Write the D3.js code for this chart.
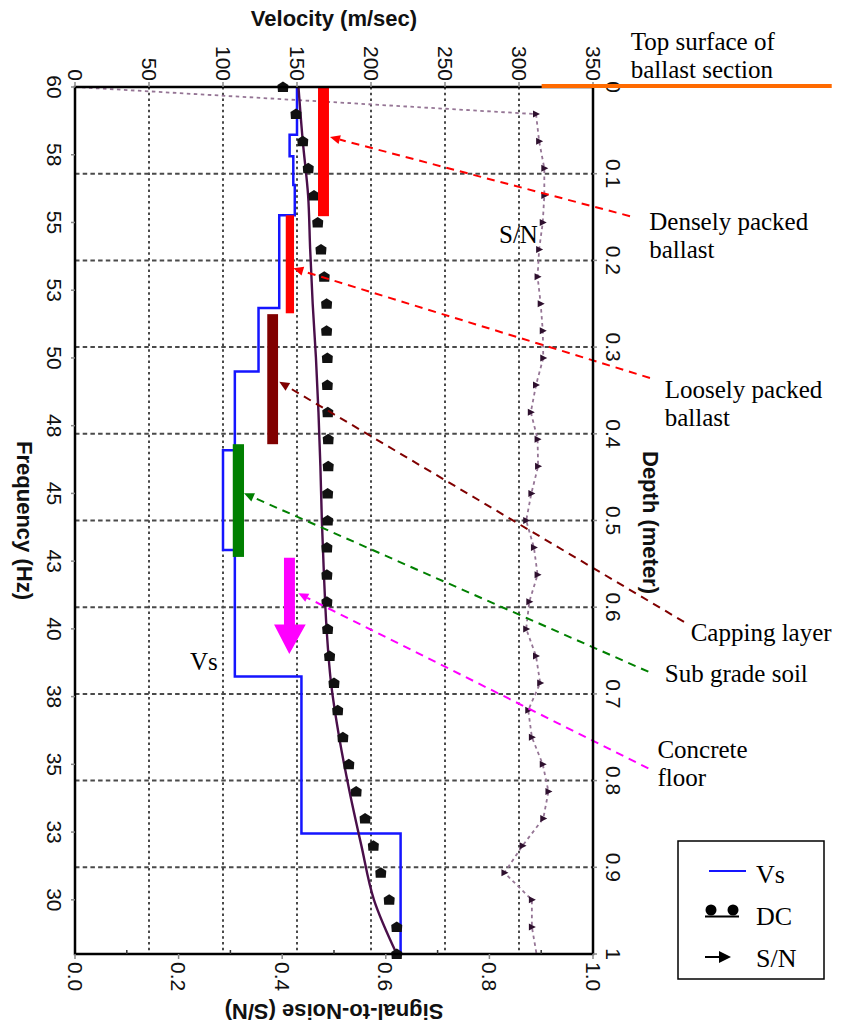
<!DOCTYPE html>
<html><head><meta charset="utf-8">
<script src="https://cdn.jsdelivr.net/npm/d3@7"></script>
<style>body{margin:0;background:#fff}</style>
</head><body><svg id="c" width="845" height="1030"></svg>
<script>
// ---------------- data ----------------
const dcFreq = [60,59,58,57,56,55,54,53,52,51,50,49,48,47,46,45,44,43,42,41,40,39,38,37,36,35,34,33,32,31,30,29,28];
const dcVel  = [140.5,149.3,153.9,157.6,161.5,164,166.2,168.4,170,170,170.5,170.5,170.8,171.1,171.1,170.7,170.7,170.2,170.2,170.2,170.7,172,175,177.5,181,185,190,196,201.6,206.6,212.3,217.4,217.4];

const theoFreq = [60,58,56,54,52,50,48,46,44,42,40,38,36,34,32,30,28];
const theoVel  = [151,153.9,157.5,158.9,160.6,162.8,164.5,165.8,166.8,168.2,170,173,178.5,185.5,193.5,202,217.4];

const snFreq = [60,59,58,57,56,55,54,53,52,51,50,49,48,47,46,45,44,43,42,41,40,39,38,37,36,35,34,33,32,31,30,29,28];
const snVal  = [0.0,0.890,0.896,0.906,0.906,0.903,0.896,0.893,0.899,0.903,0.904,0.890,0.880,0.893,0.894,0.881,0.871,0.886,0.893,0.877,0.871,0.890,0.898,0.875,0.882,0.903,0.914,0.904,0.864,0.829,0.882,0.882,0.891];
const snMarkerFreq = [59,58,57,56,55,54,53,52,51,50,49,48,47,46,45,44,43,42,41,40,39,38,37,36,35,34,33,32,31,30,29];

const vsDepthTop    = [0,0.055,0.080,0.113,0.148,0.255,0.328,0.419,0.534,0.680,0.861];
const vsDepthBottom = [0.055,0.080,0.113,0.148,0.255,0.328,0.419,0.534,0.680,0.861,1.0];
const vsVel         = [150,145,147.5,148.5,138,124,108,100,108,153,220];

const velTicks = [0,50,100,150,200,250,300,350];
const velGrid  = [50,100,150,200,250,300];
const freqTicks = [60,57.5,55,52.5,50,47.5,45,42.5,40,37.5,35,32.5,30];
const freqTickLabels = ["60","58","55","53","50","48","45","43","40","38","35","33","30"];
const depthTicks = [0,0.1,0.2,0.3,0.4,0.5,0.6,0.7,0.8,0.9,1];
const depthTickLabels = ["0","0.1","0.2","0.3","0.4","0.5","0.6","0.7","0.8","0.9","1"];
const depthGrid = [0.1,0.2,0.3,0.4,0.5,0.6,0.7,0.8,0.9];
const snTicks = [0,0.2,0.4,0.6,0.8,1.0];
const snTickLabels = ["0.0","0.2","0.4","0.6","0.8","1.0"];
const snMinor = [0.1,0.3,0.5,0.7,0.9];

// layer annotation bars (velocity range, depth range)
const layerNames  = ["Densely packed ballast","Loosely packed ballast","Capping layer","Sub grade soil"];
const layerColors = ["#ff0000","#ff0000","#800000","#008000"];
const layerV0 = [164.2,142.4,129.9,106.6];
const layerV1 = [171.6,148.0,137.2,114.2];
const layerD0 = [0,0.148,0.262,0.412];
const layerD1 = [0.149,0.261,0.412,0.542];

// leader lines: tip (v,d) -> end (v,d)
const leaderColors = ["#ff0000","#ff0000","#800000","#008000","#ff00ff"];
const leaderTipV = [172.3,147.5,138.0,114.2,150.9];
const leaderTipD = [0.0577,0.209,0.340,0.4686,0.584];
const leaderEndV = [375,388.5,411.5,387.4,387.4];
const leaderEndD = [0.149,0.3356,0.617,0.6744,0.786];

// label texts (velocity-x, depth-y of first baseline)
const noteLines = [["Top surface of","ballast section"],["Densely packed","ballast"],["Loosely packed","ballast"],["Capping layer"],["Sub grade soil"],["Concrete","floor"]];
const noteV = [375.5,388,398.5,416,398.5,393.5];
const noteD = [-0.0427,0.1645,0.3585,0.6395,0.6865,0.7745];

// ---------------- chart ----------------
const svg = d3.select("#c");
const L=75,R=593,T=87,B=954;
const xV  = d3.scaleLinear([0,350],[L,R]);
const xSN = d3.scaleLinear([0,1],[L,R]);
const yD  = d3.scaleLinear([0,1],[T,B]);
const yF  = d3.scaleLinear([60,28],[T,B]);

const sans = "'Liberation Sans', Arial, sans-serif";
const serif = "'Liberation Serif', 'Times New Roman', serif";

// grid
svg.append("g").selectAll("line").data(velGrid).join("line")
  .attr("x1",d=>xV(d)).attr("x2",d=>xV(d)).attr("y1",T).attr("y2",B)
  .attr("stroke","#4a4a4a").attr("stroke-width",2).attr("stroke-dasharray","2.5,3.2");
svg.append("g").selectAll("line").data(depthGrid).join("line")
  .attr("x1",L).attr("x2",R).attr("y1",d=>yD(d)).attr("y2",d=>yD(d))
  .attr("stroke","#4a4a4a").attr("stroke-width",2).attr("stroke-dasharray","4.5,3.2");

// S/N line
const snPts = snFreq.map((f,i)=>[xSN(snVal[i]), yF(f)]);
svg.append("path").attr("d",d3.line()(snPts)).attr("fill","none")
  .attr("stroke","#957595").attr("stroke-width",1.8).attr("stroke-dasharray","3.5,3.5");
svg.append("g").selectAll("path").data(snMarkerFreq).join("path")
  .attr("d","M-3,-3.5L4,0L-3,3.5Z")
  .attr("transform",f=>`translate(${xSN(snVal[snFreq.indexOf(f)])},${yF(f)})`)
  .attr("fill","#2e102e");

// Vs step line
const vsPts = [];
vsVel.forEach((v,i)=>{vsPts.push([xV(v),yD(vsDepthTop[i])]);vsPts.push([xV(v),yD(vsDepthBottom[i])]);});
svg.append("path").attr("d",d3.line()(vsPts)).attr("fill","none")
  .attr("stroke","#1515ff").attr("stroke-width",2.5);

// theoretical dispersion curve
svg.append("path").attr("d",d3.line().curve(d3.curveMonotoneY)(theoFreq.map((f,i)=>[xV(theoVel[i]),yF(f)])))
  .attr("fill","none").attr("stroke","#4a0f4a").attr("stroke-width",2.4);

// DC markers
svg.append("g").selectAll("path").data(dcFreq).join("path")
  .attr("d","M0,-5.5L5.5,-2L5,5L-5,5L-5.5,-2Z")
  .attr("transform",(f,i)=>`translate(${xV(dcVel[i])},${yF(f)})`)
  .attr("fill","#111");

// layer bars
svg.append("g").selectAll("rect").data(layerNames).join("rect")
  .attr("x",(d,i)=>xV(layerV0[i])).attr("width",(d,i)=>xV(layerV1[i])-xV(layerV0[i]))
  .attr("y",(d,i)=>yD(layerD0[i])).attr("height",(d,i)=>yD(layerD1[i])-yD(layerD0[i]))
  .attr("fill",(d,i)=>layerColors[i]);

// concrete floor arrow
{
  const s0=141.2,s1=148.6,h0=134.5,h1=155.9,apx=144.8,d0=0.543,d1=0.620,d2=0.654;
  svg.append("path").attr("fill","#ff00ff").attr("d",
    `M${xV(s0)},${yD(d0)}L${xV(s1)},${yD(d0)}L${xV(s1)},${yD(d1)}L${xV(h1)},${yD(d1)}L${xV(apx)},${yD(d2)}L${xV(h0)},${yD(d1)}L${xV(s0)},${yD(d1)}Z`);
}

// leader lines with arrowheads
leaderColors.forEach((c,i)=>{
  const x1=xV(leaderEndV[i]),y1=yD(leaderEndD[i]),x2=xV(leaderTipV[i]),y2=yD(leaderTipD[i]);
  const ang=Math.atan2(y2-y1,x2-x1);
  const hl=10, hw=4.5;
  const bx=x2-hl*Math.cos(ang), by=y2-hl*Math.sin(ang);
  svg.append("line").attr("x1",x1).attr("y1",y1).attr("x2",bx).attr("y2",by)
    .attr("stroke",c).attr("stroke-width",2).attr("stroke-dasharray","8,6");
  const px=-Math.sin(ang),py=Math.cos(ang);
  svg.append("path").attr("fill",c)
    .attr("d",`M${x2},${y2}L${bx+px*hw},${by+py*hw}L${bx-px*hw},${by-py*hw}Z`);
});

// frame
svg.append("rect").attr("x",L).attr("y",T).attr("width",R-L).attr("height",B-T)
  .attr("fill","none").attr("stroke","#000").attr("stroke-width",2.5);

// ticks
const tick = svg.append("g").attr("stroke","#888").attr("stroke-width",1.5);
velTicks.forEach(v=>tick.append("line").attr("x1",xV(v)).attr("x2",xV(v)).attr("y1",T).attr("y2",T-5));
freqTicks.forEach(f=>tick.append("line").attr("x1",L).attr("x2",L-4).attr("y1",yF(f)).attr("y2",yF(f)));
depthTicks.forEach(d=>tick.append("line").attr("x1",R).attr("x2",R+4).attr("y1",yD(d)).attr("y2",yD(d)));
snTicks.forEach(s=>tick.append("line").attr("x1",xSN(s)).attr("x2",xSN(s)).attr("y1",B).attr("y2",B+5));
snMinor.forEach(s=>tick.append("line").attr("x1",xSN(s)).attr("x2",xSN(s)).attr("y1",B).attr("y2",B-4).attr("stroke","#333"));

// tick labels (rotated 90)
const tl = svg.append("g").attr("font-family",sans).attr("font-size",21).attr("fill","#111");
velTicks.forEach(v=>tl.append("text").attr("transform",`translate(${xV(v)},${T-6}) rotate(90)`)
  .attr("text-anchor","end").attr("dy","0.35em").text(v));
freqTicks.forEach((f,i)=>tl.append("text").attr("transform",`translate(54,${yF(f)}) rotate(90)`)
  .attr("text-anchor","middle").attr("dy","0.35em").text(freqTickLabels[i]));
depthTicks.forEach((d,i)=>tl.append("text").attr("transform",`translate(613,${yD(d)}) rotate(90)`)
  .attr("text-anchor","middle").attr("dy","0.35em").text(depthTickLabels[i]));
snTicks.forEach((s,i)=>tl.append("text").attr("transform",`translate(${xSN(s)},${B+8}) rotate(90)`)
  .attr("text-anchor","start").attr("dy","0.35em").text(snTickLabels[i]));

// axis titles
const tt = svg.append("g").attr("font-family",sans).attr("font-size",22).attr("font-weight","bold").attr("fill","#111");
tt.append("text").attr("x",(L+R)/2).attr("y",26).attr("text-anchor","middle").text("Velocity (m/sec)");
tt.append("text").attr("transform",`translate(17,${(T+B)/2}) rotate(90)`).attr("text-anchor","middle").text("Frequency (Hz)");
tt.append("text").attr("transform",`translate(643,${(T+B)/2+2}) rotate(90)`).attr("text-anchor","middle").text("Depth (meter)");
tt.append("text").attr("transform",`translate(${(L+R)/2},1004) rotate(180)`).attr("text-anchor","middle").text("Signal-to-Noise (S/N)");

// orange top surface line
svg.append("line").attr("x1",xV(315.3)).attr("x2",xV(511.3)).attr("y1",yD(0)-1).attr("y2",yD(0)-1)
  .attr("stroke","#ff6a00").attr("stroke-width",4);

// notes
const nt = svg.append("g").attr("font-family",serif).attr("font-size",25).attr("fill","#000");
noteLines.forEach((lines,i)=>{
  const t = nt.append("text").attr("x",xV(noteV[i])).attr("y",yD(noteD[i]));
  lines.forEach((ln,j)=>t.append("tspan").attr("x",xV(noteV[i])).attr("dy",j?28:0).text(ln));
});
nt.append("text").attr("x",499).attr("y",243).text("S/N");
nt.append("text").attr("x",190).attr("y",670).text("Vs");

// legend
const lg = svg.append("g");
lg.append("rect").attr("x",678).attr("y",841).attr("width",146).attr("height",138)
  .attr("fill","#fff").attr("stroke","#000").attr("stroke-width",1.5);
lg.append("line").attr("x1",709).attr("x2",746).attr("y1",871).attr("y2",871).attr("stroke","#1515ff").attr("stroke-width",2.2);
lg.append("circle").attr("cx",711).attr("cy",910).attr("r",5.5).attr("fill","#000");
lg.append("circle").attr("cx",733).attr("cy",910).attr("r",5.5).attr("fill","#000");
lg.append("line").attr("x1",705).attr("x2",739).attr("y1",916.5).attr("y2",916.5).attr("stroke","#000").attr("stroke-width",2);
lg.append("line").attr("x1",705).attr("x2",721).attr("y1",957).attr("y2",957).attr("stroke","#000").attr("stroke-width",2);
lg.append("path").attr("d","M731,957L719,951L719,963Z").attr("fill","#000");
const lt = lg.append("g").attr("font-family",serif).attr("font-size",26).attr("fill","#000");
lt.append("text").attr("x",756).attr("y",883).text("Vs");
lt.append("text").attr("x",756).attr("y",925).text("DC");
lt.append("text").attr("x",756).attr("y",967).text("S/N");
</script></body></html>
